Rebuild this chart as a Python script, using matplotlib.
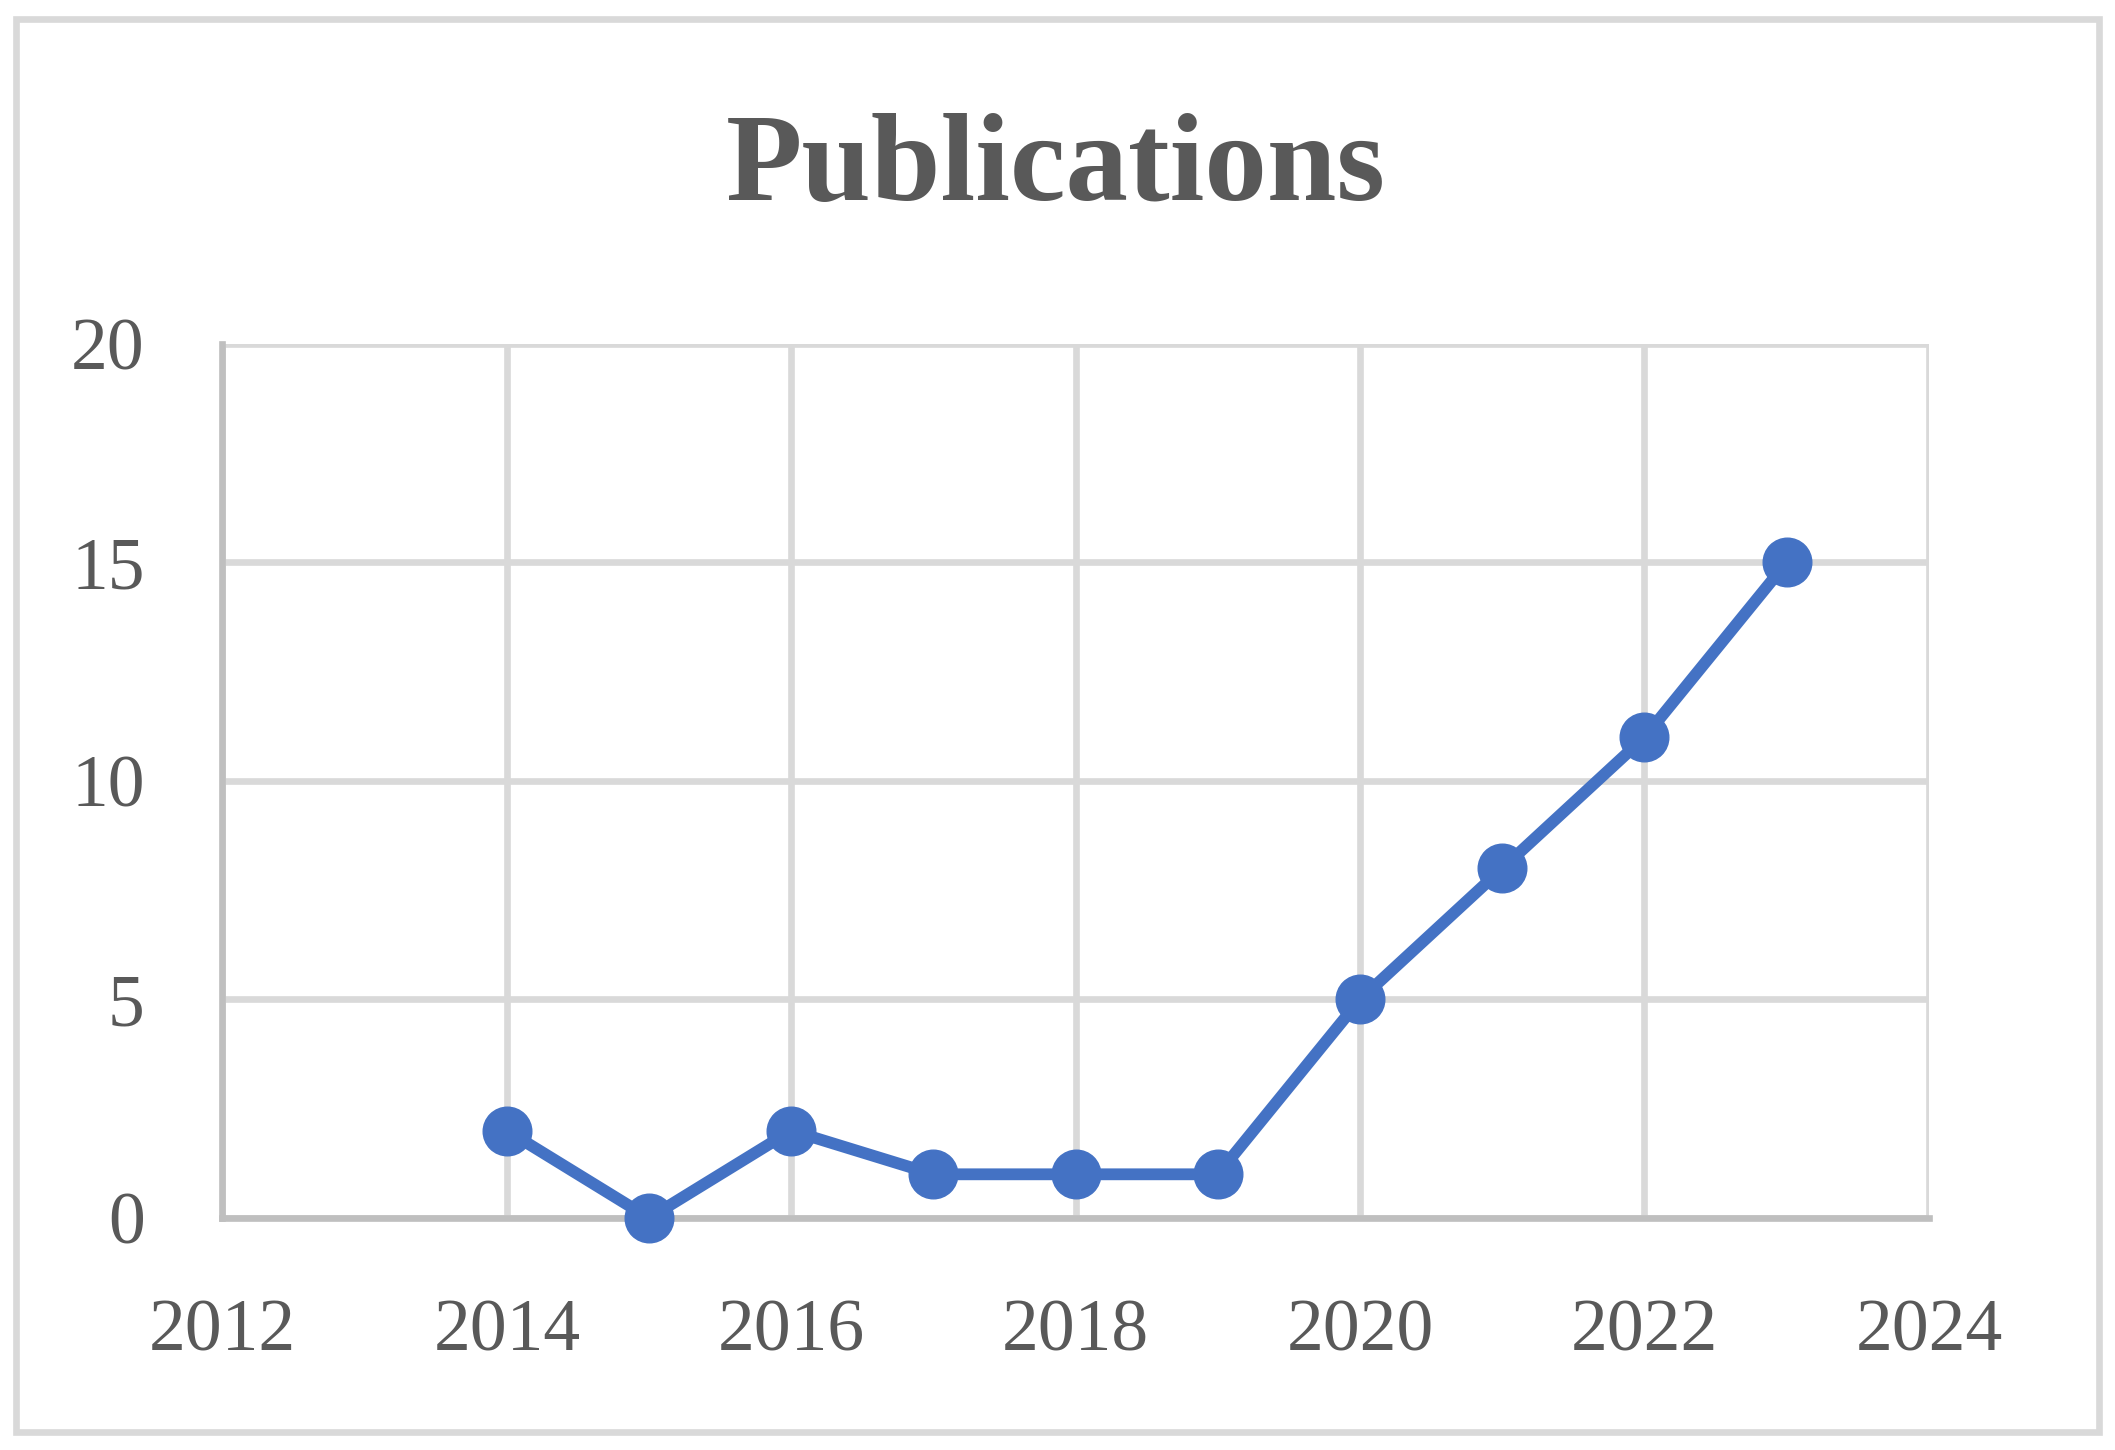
import matplotlib.pyplot as plt
from matplotlib.patches import Rectangle

years = [2014, 2015, 2016, 2017, 2018, 2019, 2020, 2021, 2022, 2023]
pubs = [2, 0, 2, 1, 1, 1, 5, 8, 11, 15]
x_ticks = [2012, 2014, 2016, 2018, 2020, 2022, 2024]
y_ticks = [0, 5, 10, 15, 20]

txt = '#595959'
plt.rcParams['font.family'] = ['Liberation Serif', 'DejaVu Serif']

fig = plt.figure(figsize=(21.15, 14.5), dpi=100)
fig.patches.append(Rectangle((0.0076, 0.0124), 0.985, 0.9745, transform=fig.transFigure,
                             fill=False, edgecolor='#D9D9D9', linewidth=4.8))

ax = fig.add_axes([0.1052, 0.16, 0.8068, 0.6028])
ax.plot(years, pubs, color='#4472C4', linewidth=8.5, marker='o', markersize=35,
        clip_on=False, zorder=3)

ax.set_xlim(2012, 2024)
ax.set_ylim(0, 20)
ax.set_xticks(x_ticks)
ax.set_yticks(y_ticks)
ax.grid(True, color='#D9D9D9', linewidth=4.8, zorder=0)
ax.set_axisbelow(True)
for s in ['top', 'right']:
    ax.spines[s].set_visible(False)
for s in ['left', 'bottom']:
    ax.spines[s].set_color('#BFBFBF')
    ax.spines[s].set_linewidth(4.8)
ax.tick_params(axis='both', length=0, labelsize=53, labelcolor=txt)
ax.tick_params(axis='x', pad=58)
ax.tick_params(axis='y', pad=56)

fig.text(0.4993, 0.883, 'Publications', ha='center', va='center', fontsize=90,
         fontweight='bold', color=txt)

fig.savefig('out.png', dpi=100)
